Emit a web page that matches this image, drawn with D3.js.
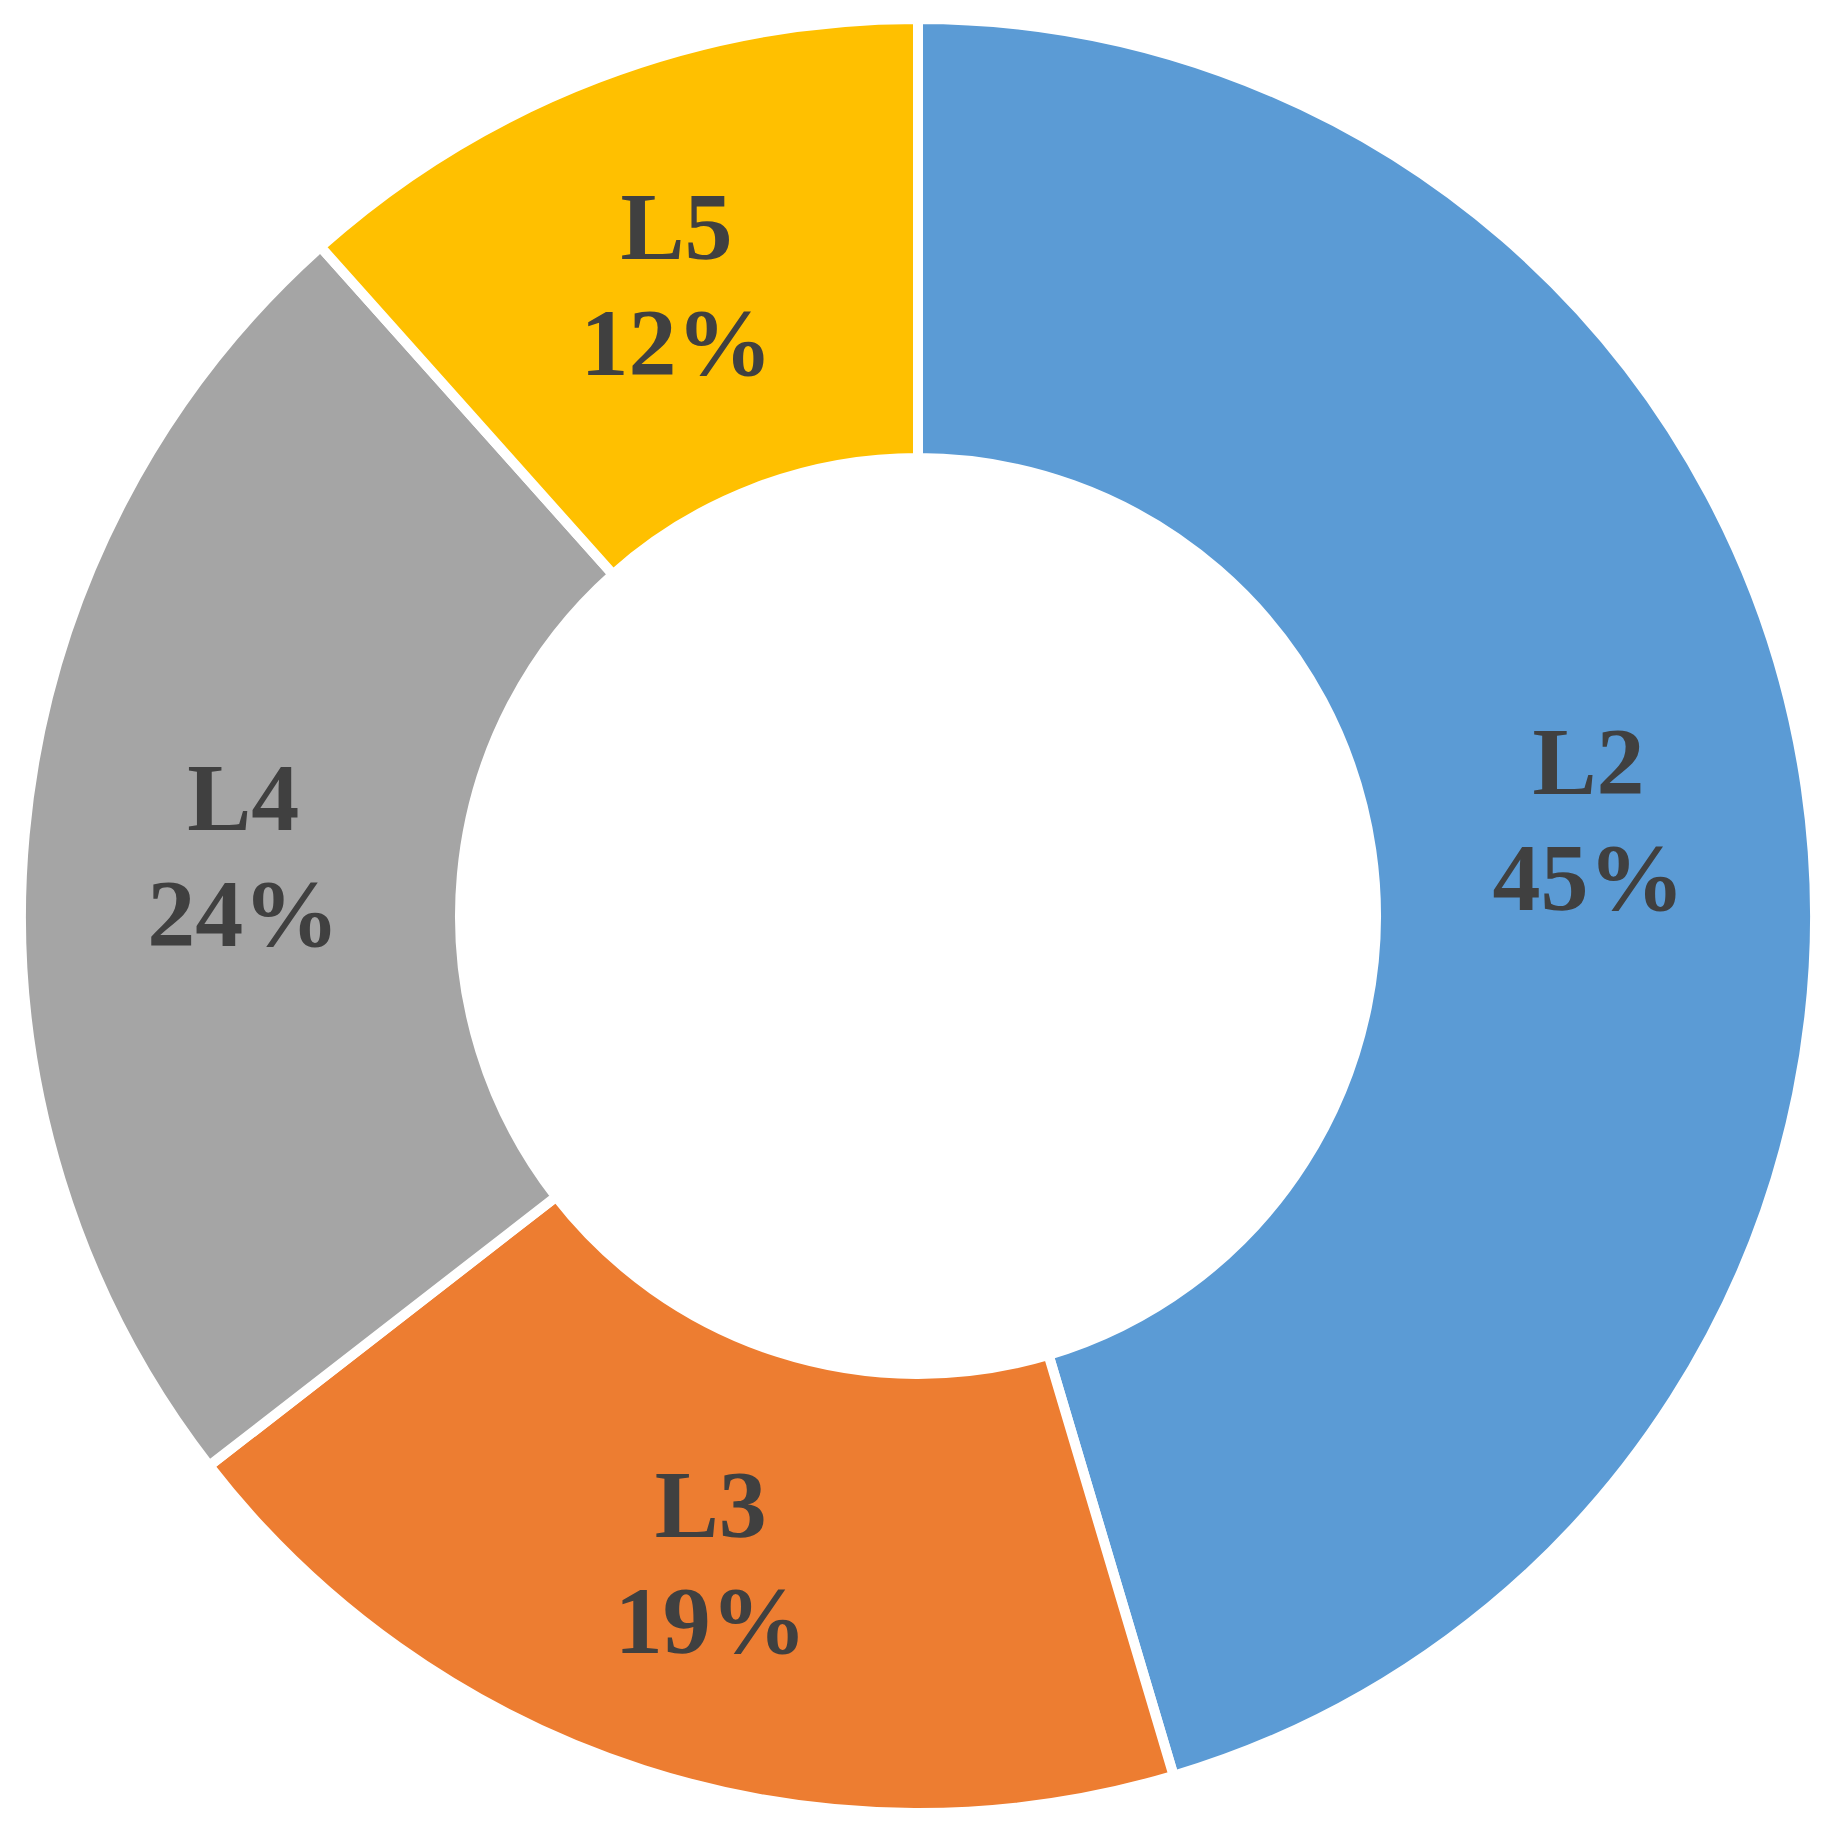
<!DOCTYPE html>
<html>
<head>
<meta charset="utf-8">
<script src="https://cdn.jsdelivr.net/npm/d3@7"></script>
<style>body{margin:0;background:#fff}</style>
</head>
<body>
<script>
var width = 1834,
    height = 1828;

var categories = ["L2", "L3", "L4", "L5"];
var values = [45.4, 19.1, 23.9, 11.6];
var labels = ["45%", "19%", "24%", "12%"];
var colors = ["#5B9BD5", "#ED7D31", "#A5A5A5", "#FFC000"];

var cx = 918, cy = 916,
    outer = 897, inner = 458;

var svg = d3.select("body").append("svg").attr("width", width).attr("height", height);

var g = svg.append("g").attr("transform", "translate(" + cx + "," + cy + ")");

var pie = d3.pie().sort(null).value(function(d) { return d; });
var arcs = pie(values);

var arc = d3.arc().innerRadius(inner).outerRadius(outer);

g.selectAll("path.slice")
    .data(arcs)
    .enter().append("path")
    .attr("class", "slice")
    .attr("d", arc)
    .attr("fill", function(d, i) { return colors[i]; })
    .attr("stroke", "#fff")
    .attr("stroke-width", 10)
    .attr("stroke-linejoin", "miter");

var lab = g.selectAll("text.lab")
    .data(arcs)
    .enter().append("text")
    .attr("class", "lab")
    .attr("transform", function(d) { return "translate(" + arc.centroid(d) + ")"; })
    .attr("text-anchor", "middle")
    .attr("font-family", "'Liberation Serif', 'Times New Roman', serif")
    .attr("font-weight", "bold")
    .attr("font-size", 96)
    .attr("fill", "#404040");

lab.append("tspan").attr("x", 0).attr("y", -24).text(function(d, i) { return categories[i]; });
lab.append("tspan").attr("x", 0).attr("y", 92).text(function(d, i) { return labels[i]; });
</script>
</body>
</html>
